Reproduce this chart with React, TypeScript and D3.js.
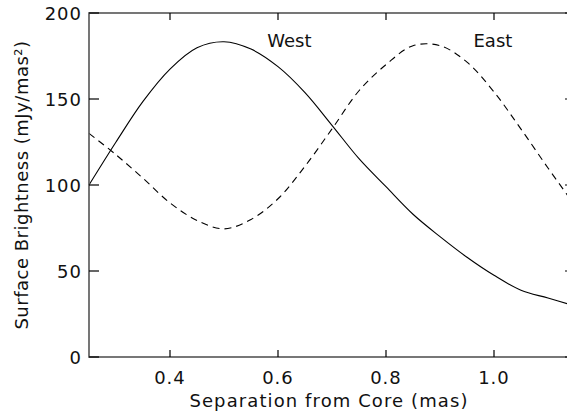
import React, {useEffect, useRef} from 'react';
import * as d3 from 'd3';

// separation from core (mas)
const sep = [0.25, 0.30, 0.35, 0.40, 0.45, 0.50, 0.55, 0.60, 0.65, 0.70, 0.75, 0.80, 0.85, 0.90, 0.95, 1.00, 1.05, 1.10, 1.15];
// surface brightness, mJy/mas^2
const west = [100, 125, 148.6, 167.4, 179.8, 183.3, 179, 168.8, 153.7, 134.7, 115.3, 99, 83, 70, 58, 47.5, 38.8, 34.3, 29.7];
const east = [130, 117.6, 103.9, 89.6, 79.4, 74.5, 80, 92, 110.9, 132.6, 154.8, 170, 181, 181, 171.4, 154.1, 132.5, 109.9, 88];

const xTicks = [0.4, 0.6, 0.8, 1.0];
const yTicks = [0, 50, 100, 150, 200];
const seriesLabels = [{name: 'West', x: 0.621, y: 180}, {name: 'East', x: 0.998, y: 180}];

const W = 567, H = 412;
const FONT = '"DejaVu Sans", sans-serif';
const INK = '#111';

function App() {
    const svgRef = useRef<SVGSVGElement>(null);
    useEffect(() => {
        const svg = d3.select(svgRef.current);
        svg.selectAll('*').remove();
        const x = d3.scaleLinear().domain([0.25, 1.15]).range([89, 575]);
        const y = d3.scaleLinear().domain([0, 200]).range([357, 13]);

        const lineGen = d3.line<number>()
            .x((d, i) => x(sep[i]))
            .y(d => y(d))
            .curve(d3.curveCatmullRom.alpha(0.5));

        const plot = svg.append('g');
        plot.append('path').attr('d', lineGen(west)).attr('fill', 'none')
            .attr('stroke', '#000').attr('stroke-width', 1.1);
        plot.append('path').attr('d', lineGen(east)).attr('fill', 'none')
            .attr('stroke', '#000').attr('stroke-width', 1.1).attr('stroke-dasharray', '7,5');

        // frame
        const [x0, x1] = x.range();
        const [y0, y1] = y.range();
        svg.append('rect').attr('x', x0).attr('y', y1).attr('width', x1 - x0).attr('height', y0 - y1)
            .attr('fill', 'none').attr('stroke', '#555').attr('stroke-width', 1.6);

        // ticks (inward)
        const tk = svg.append('g');
        const tick = (cls: string, data: number[], f: (d: number) => [number, number, number, number]) =>
            tk.selectAll('.' + cls).data(data).join('line').attr('class', cls)
                .attr('x1', d => f(d)[0]).attr('y1', d => f(d)[1])
                .attr('x2', d => f(d)[2]).attr('y2', d => f(d)[3])
                .attr('stroke', '#000').attr('stroke-width', 1.2);
        tick('xb', xTicks, d => [x(d), y0, x(d), y0 - 7]);
        tick('xt', xTicks, d => [x(d), y1, x(d), y1 + 7]);
        tick('yl', yTicks, d => [x0, y(d), x0 + 10, y(d)]);
        tick('yr', yTicks, d => [x1, y(d), x1 - 10, y(d)]);

        const txt = (sel: any, ls: number) => sel
            .attr('font-family', FONT).attr('font-size', 18).attr('fill', INK)
            .attr('letter-spacing', ls);

        svg.selectAll('.xl').data(xTicks).join('text').attr('class', 'xl')
            .attr('x', d => x(d)).attr('y', 384).attr('text-anchor', 'middle')
            .call(txt, 1).text(d => d3.format('.1f')(d));
        svg.selectAll('.ylab').data(yTicks).join('text').attr('class', 'ylab')
            .attr('x', 82).attr('y', d => y(d) + 6.5).attr('text-anchor', 'end')
            .call(txt, 1).text(d => String(d));

        svg.selectAll('.label').data(seriesLabels).join('text')
            .attr('class', 'label')
            .attr('x', d => x(d.x)).attr('y', d => y(d.y))
            .attr('text-anchor', 'middle')
            .call(txt, 0)
            .text(d => d.name);

        svg.append('text')
            .attr('x', 329).attr('y', 407)
            .attr('text-anchor', 'middle')
            .call(txt, 1.1)
            .text('Separation from Core (mas)');

        svg.append('text')
            .attr('transform', `translate(28,${y(100)}) rotate(-90)`)
            .attr('text-anchor', 'middle')
            .call(txt, 0.5)
            .text('Surface Brightness (mJy/mas²)');
    }, []);

    return (
        <div style={{position: 'fixed', left: 0, top: 0, width: W, height: H, overflow: 'hidden', background: '#fff'}}>
            <svg ref={svgRef} width={W} height={H} style={{display: 'block', overflow: 'hidden'}}></svg>
        </div>
    );
}

export default App;
